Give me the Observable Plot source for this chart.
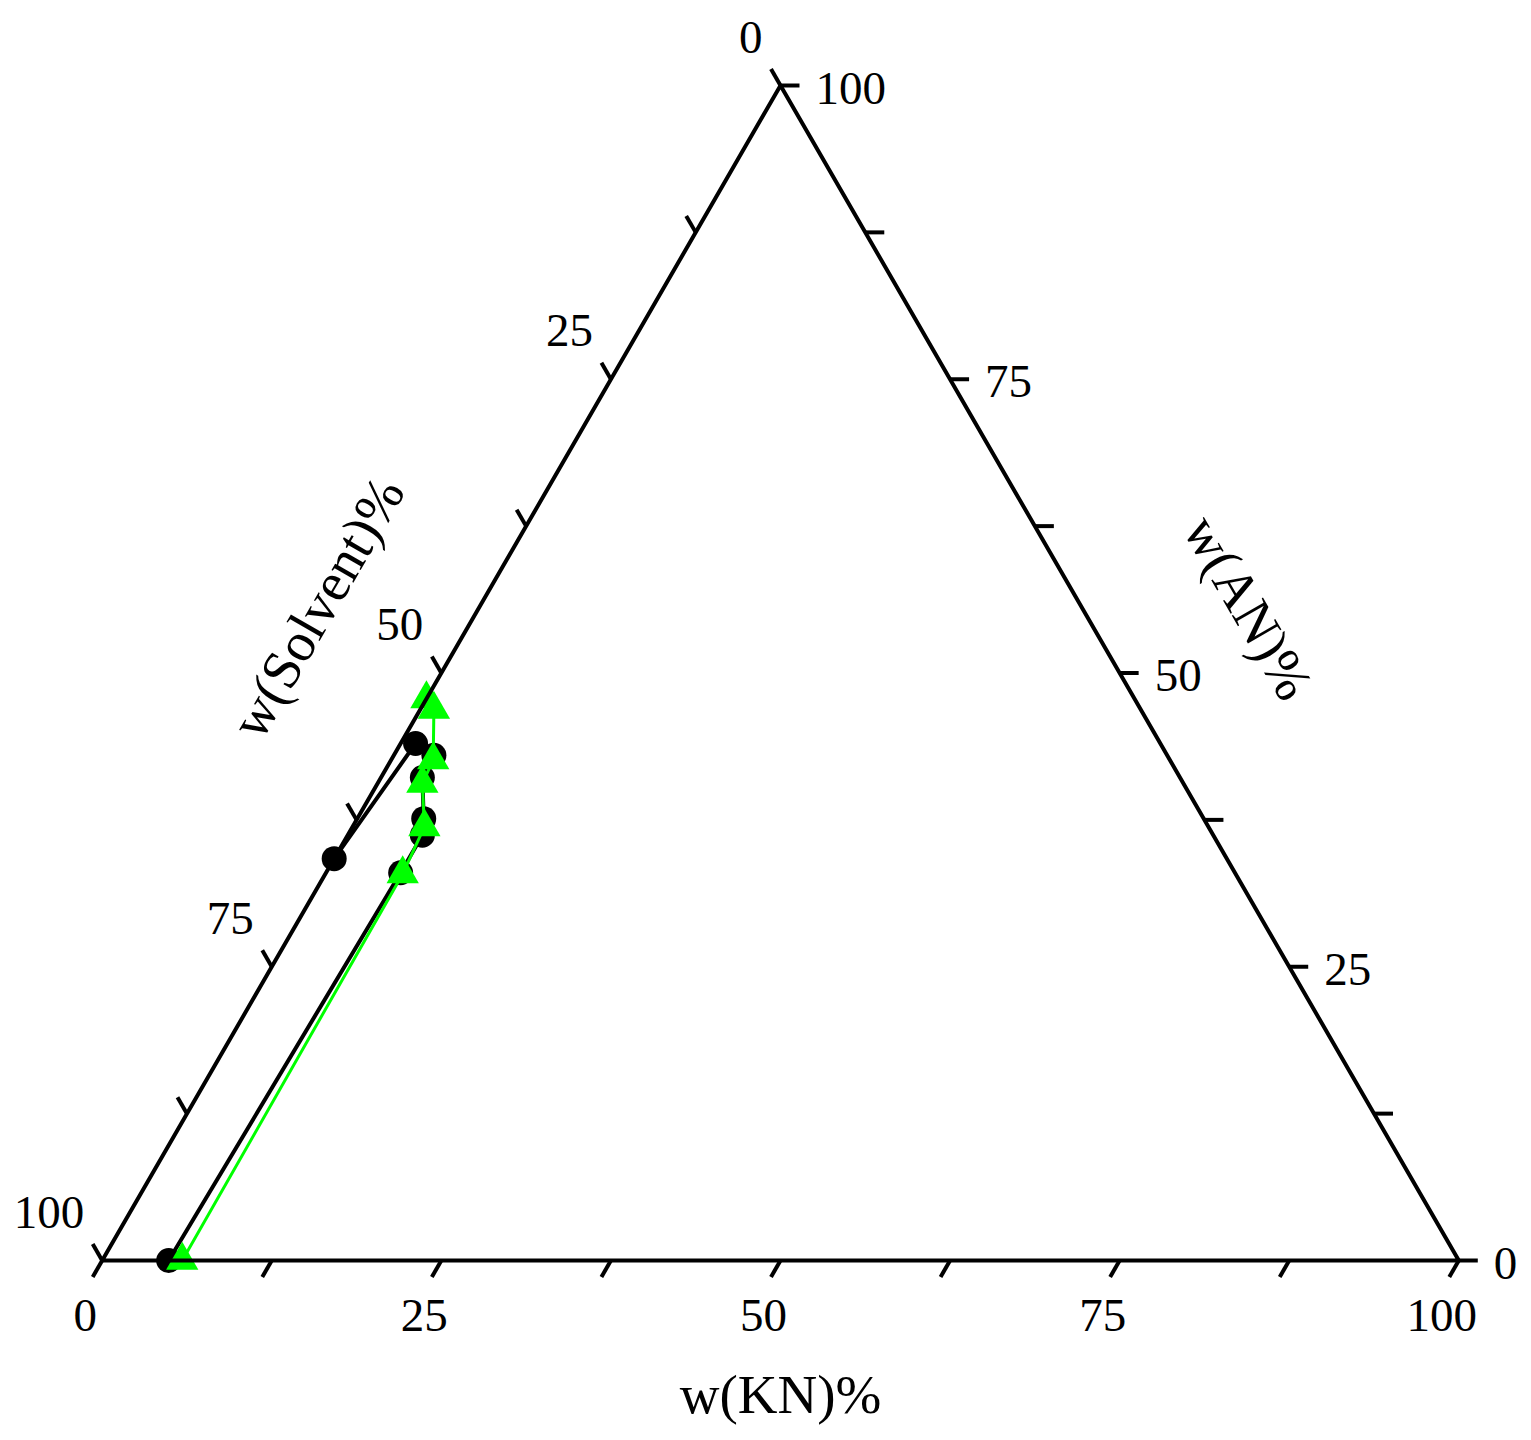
<!DOCTYPE html>
<html><head><meta charset="utf-8">
<script src="https://cdn.jsdelivr.net/npm/d3@7"></script>
<script src="https://cdn.jsdelivr.net/npm/@observablehq/plot@0.6"></script>
<style>body{margin:0;background:#fff}#chart svg{display:block}</style>
</head><body><div id="chart"></div>
<script>
// Black series (circles): w(KN)% and w(AN)%; w(Solvent)% = 100 - KN - AN
const blackKN = [0, 1.1, 2.95, 3.05, 4.9, 5.5, 5.5, 4.9];
const blackAN = [34.2, 44.0, 43.0, 41.1, 37.6, 36.2, 33.0, 0];
// Green series (triangles)
const greenKN = [0, 1.0, 3.1, 3.3, 5.3, 5.7, 5.9];
const greenAN = [47.8, 46.9, 42.6, 40.6, 36.9, 32.9, 0];

const tickValues = [0, 12.5, 25, 37.5, 50, 62.5, 75, 87.5, 100];
const labelValues = [0, 25, 50, 75, 100];
const titleKN = "w(KN)%", titleSolvent = "w(Solvent)%", titleAN = "w(AN)%";

const FONT = "Liberation Serif, Times New Roman, serif";
const tickLen = 1.4;
const rows = (kn, an) => kn.map((k, i) => ({KN: k, AN: an[i], Solvent: 100 - k - an[i]}));
const black = rows(blackKN, blackAN);
const green = rows(greenKN, greenAN);
const X = d => d.KN + d.AN / 2;
const Y = d => d.AN;

const frame = [{KN:0,AN:0},{KN:100,AN:0},{KN:0,AN:100},{KN:0,AN:0}];
const bottomTicks = tickValues.map(v => ({x1: v, y1: 0, x2: v - tickLen/2, y2: -tickLen}));
const rightTicks = tickValues.map(v => ({x1: 100 - v/2, y1: v, x2: 100 - v/2 + tickLen, y2: v}));
const leftTicks = tickValues.map(s => ({x1: (100 - s)/2, y1: 100 - s, x2: (100 - s - tickLen)/2, y2: 100 - s + tickLen}));

const chart = Plot.plot({
  width: 1531, height: 1440,
  marginTop: 0, marginBottom: 0, marginLeft: 0, marginRight: 0,
  x: {domain: [0, 100], range: [101.7, 1458.3], axis: null},
  y: {domain: [0, 100], range: [1260, 85], axis: null},
  style: {fontFamily: FONT, background: "#fff"},
  marks: [
    Plot.line(black, {x: X, y: Y, stroke: "#000", strokeWidth: 4}),
    Plot.dot(black, {x: X, y: Y, r: 12.5, fill: "#000", symbol: "circle"}),
    Plot.line(green, {x: X, y: Y, stroke: "#00ff00", strokeWidth: 3}),
    Plot.dot(green, {x: X, y: Y, r: 12, fill: "#00ff00", symbol: "triangle"}),
    Plot.line(frame, {x: X, y: Y, stroke: "#000", strokeWidth: 4, strokeLinejoin: "miter"}),
    Plot.link(bottomTicks, {x1: "x1", y1: "y1", x2: "x2", y2: "y2", stroke: "#000", strokeWidth: 4}),
    Plot.link(rightTicks, {x1: "x1", y1: "y1", x2: "x2", y2: "y2", stroke: "#000", strokeWidth: 4}),
    Plot.link(leftTicks, {x1: "x1", y1: "y1", x2: "x2", y2: "y2", stroke: "#000", strokeWidth: 4}),
    Plot.text(labelValues, {x: v => v, y: () => 0, text: v => String(v), dx: -17, dy: 55,
      textAnchor: "middle", fontSize: 47, fontFamily: FONT, fill: "#000"}),
    Plot.text(labelValues, {x: v => 100 - v/2, y: v => v, text: v => String(v), dx: 35, dy: 3,
      textAnchor: "start", fontSize: 47, fontFamily: FONT, fill: "#000"}),
    Plot.text(labelValues, {x: s => (100 - s)/2, y: s => 100 - s, text: s => String(s), dx: -18, dy: -48,
      textAnchor: "end", fontSize: 47, fontFamily: FONT, fill: "#000"}),
    Plot.text([titleKN], {x: () => 50, y: () => 0, text: d => d, dy: 135,
      textAnchor: "middle", fontSize: 55, fontFamily: FONT, fill: "#000"}),
    Plot.text([titleSolvent], {x: () => 25, y: () => 50, text: d => d, dx: -123, dy: -65, rotate: -60,
      textAnchor: "middle", fontSize: 55, fontFamily: FONT, fill: "#000"}),
    Plot.text([titleAN], {x: () => 75, y: () => 50, text: d => d, dx: 128, dy: -65, rotate: 60,
      textAnchor: "middle", fontSize: 55, fontFamily: FONT, fill: "#000"})
  ]
});
document.getElementById("chart").appendChild(chart);
</script>
</body></html>
